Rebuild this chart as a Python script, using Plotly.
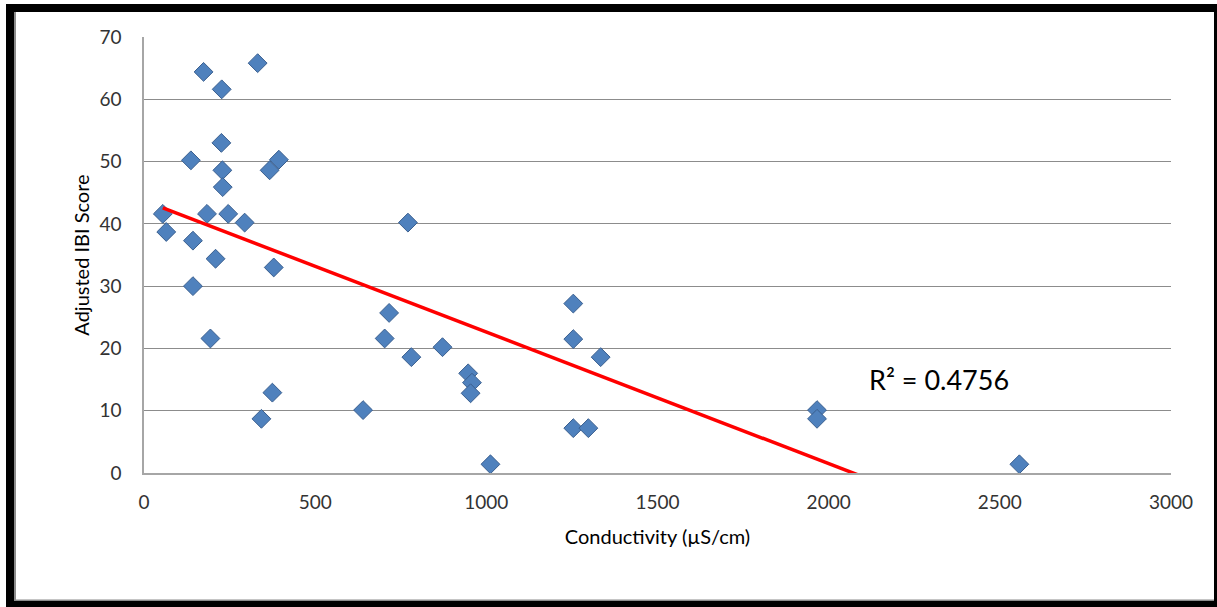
import numpy as np
import plotly.graph_objects as go

# Conductivity (µS/cm) at each site
conductivity = [55, 65, 137, 143, 143, 174, 184, 194, 209, 227, 226, 229, 230, 246,
                294, 332, 343, 367, 394, 379, 375, 640, 703, 716, 771, 781, 872,
                947, 958, 954, 1012, 1254, 1254, 1254, 1298, 1334, 1966, 1966, 2557]
# Adjusted IBI score at each site
ibi_score = [41.6, 38.7, 50.2, 37.3, 30.0, 64.4, 41.6, 21.6, 34.4, 61.6, 53.0, 48.6, 45.9, 41.6,
             40.2, 65.8, 8.7, 48.6, 50.3, 33.0, 12.9, 10.1, 21.6, 25.7, 40.2, 18.6, 20.2,
             16.0, 14.5, 12.8, 1.4, 27.2, 21.5, 7.2, 7.2, 18.6, 10.1, 8.7, 1.4]

x_ticks = [0, 500, 1000, 1500, 2000, 2500, 3000]
y_ticks = [0, 10, 20, 30, 40, 50, 60, 70]
r2_label = "R² = 0.4756"

# Linear least-squares trendline over the data range
slope, intercept = np.polyfit(conductivity, ibi_score, 1)
trend_x = [min(conductivity), max(conductivity)]
trend_y = [slope * v + intercept for v in trend_x]

W, H = 1217, 607
L, R, T, B = 144, 46, 37, 134
PW, PH = W - L - R, H - T - B


def px(v):
    return (v - L) / PW


def py(v):
    return (H - B - v) / PH


fig = go.Figure()
fig.add_trace(go.Scatter(
    x=conductivity, y=ibi_score, mode="markers",
    marker=dict(symbol="diamond", size=14.5, color="#4F81BD",
                line=dict(color="#3A5F8F", width=1)),
    cliponaxis=False, showlegend=False,
))
fig.add_trace(go.Scatter(
    x=trend_x, y=trend_y, mode="lines",
    line=dict(color="#FF0000", width=3.5), showlegend=False,
))

fig.add_annotation(x=px(939), y=py(379), xref="paper", yref="paper",
                   xanchor="center", yanchor="middle",
                   text=r2_label, showarrow=False,
                   font=dict(family="Lato", size=27, color="#000000"))

# Outer frame around the chart
frame = [
    (6, 4, 1217, 12),      # top
    (6, 4, 14, 607),       # left
    (1214, 4, 1217, 607),  # right
    (6, 601, 1217, 607),   # bottom
]
shapes = []
for x0, y0, x1, y1 in frame:
    shapes.append(dict(type="rect", xref="paper", yref="paper",
                       x0=px(x0), x1=px(x1), y0=py(y0), y1=py(y1),
                       fillcolor="#000000", line=dict(width=0), layer="above"))
shapes.append(dict(type="rect", xref="paper", yref="paper",
                   x0=px(14), x1=px(16), y0=py(12), y1=py(601),
                   fillcolor="#8C8C8C", line=dict(width=0), layer="above"))
shapes.append(dict(type="rect", xref="paper", yref="paper",
                   x0=px(14), x1=px(1214), y0=py(599.5), y1=py(601),
                   fillcolor="#8C8C8C", line=dict(width=0), layer="above"))

axis_font = dict(family="Lato", size=19, color="#333333")
fig.update_layout(
    width=W, height=H,
    margin=dict(l=L, r=R, t=T, b=B, pad=0),
    paper_bgcolor="#FFFFFF", plot_bgcolor="#FFFFFF",
    font=dict(family="Lato", color="#000000"),
    shapes=shapes,
    xaxis=dict(range=[0, 3000], tickvals=x_ticks, showgrid=False, zeroline=False,
               showline=True, linecolor="#A6A6A6", linewidth=1.5,
               ticks="", tickfont=axis_font, ticklabelstandoff=11,
               title=dict(text="Conductivity (µS/cm)", standoff=18,
                          font=dict(family="Lato", size=20, color="#000000"))),
    yaxis=dict(range=[0, 70], tickvals=y_ticks, showgrid=True, gridcolor="#8C8C8C",
               gridwidth=1, zeroline=False, showline=True, linecolor="#A6A6A6",
               linewidth=1.5, ticks="", tickfont=axis_font, ticklabelstandoff=17,
               title=dict(text="Adjusted IBI Score", standoff=4,
                          font=dict(family="Lato", size=20, color="#000000"))),
)
fig.write_html("out.html")
